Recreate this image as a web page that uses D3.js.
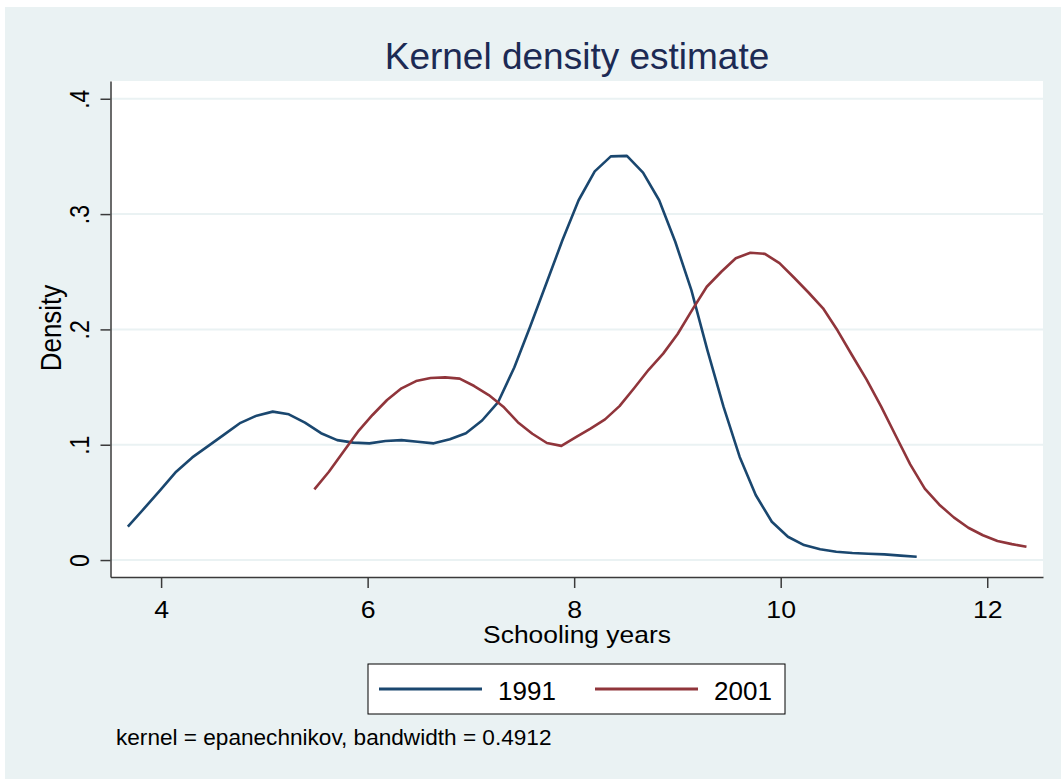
<!DOCTYPE html>
<html>
<head>
<meta charset="utf-8">
<script src="https://cdn.jsdelivr.net/npm/d3@7"></script>
<style>
body { margin: 0; background: #fff; }
svg text { font-family: "Liberation Sans", Arial, sans-serif; }
</style>
</head>
<body>
<div id="chart"></div>
<script>
// kernel density estimates, schooling years
const x1991 = [3.678, 3.834, 3.990, 4.146, 4.302, 4.458, 4.613, 4.769, 4.925, 5.081,
               5.237, 5.393, 5.549, 5.705, 5.861, 6.017, 6.172, 6.328, 6.484, 6.640,
               6.796, 6.952, 7.108, 7.264, 7.420, 7.576, 7.731, 7.887, 8.043, 8.199,
               8.355, 8.511, 8.667, 8.823, 8.979, 9.135, 9.290, 9.446, 9.602, 9.758,
               9.914, 10.070, 10.226, 10.382, 10.538, 10.694, 10.849, 11.005, 11.161, 11.317];
const y1991 = [0.029, 0.0445, 0.0605, 0.0766, 0.089, 0.099, 0.109, 0.119, 0.1252, 0.1287,
               0.1264, 0.1191, 0.110, 0.104, 0.1018, 0.1012, 0.1032, 0.104, 0.1026, 0.1012,
               0.1047, 0.110, 0.121, 0.137, 0.167, 0.203, 0.240, 0.2775, 0.312, 0.337,
               0.350, 0.3505, 0.336, 0.312, 0.276, 0.234, 0.182, 0.133, 0.0896, 0.0564,
               0.0332, 0.0202, 0.013, 0.0093, 0.0072, 0.0061, 0.0055, 0.0049, 0.0038, 0.0029];

const x2001 = [5.484, 5.625, 5.765, 5.906, 6.047, 6.188, 6.328, 6.469, 6.610, 6.751,
               6.891, 7.032, 7.173, 7.314, 7.454, 7.595, 7.736, 7.876, 8.017, 8.158,
               8.299, 8.439, 8.580, 8.721, 8.862, 9.002, 9.143, 9.284, 9.425, 9.565,
               9.706, 9.847, 9.988, 10.128, 10.269, 10.410, 10.551, 10.691, 10.832, 10.973,
               11.113, 11.254, 11.395, 11.536, 11.676, 11.817, 11.958, 12.099, 12.239, 12.380];
const y2001 = [0.0613, 0.0766, 0.0939, 0.1113, 0.1258, 0.1388, 0.1489, 0.1552, 0.1578, 0.1584,
               0.1573, 0.1509, 0.1431, 0.133, 0.1195, 0.1095, 0.1015, 0.099, 0.1065, 0.114,
               0.122, 0.1335, 0.149, 0.165, 0.179, 0.196, 0.217, 0.237, 0.250, 0.2617,
               0.2665, 0.2655, 0.2575, 0.245, 0.232, 0.2183, 0.199, 0.1776, 0.1565, 0.133,
               0.108, 0.083, 0.062, 0.048, 0.037, 0.028, 0.0215, 0.0165, 0.0138, 0.0115];

const seriesNames = ["1991", "2001"];
const seriesColors = ["#1a476f", "#90353b"];
const xTicks = [4, 6, 8, 10, 12];
const yTicks = [0, 0.1, 0.2, 0.3, 0.4];
const yTickLabels = ["0", ".1", ".2", ".3", ".4"];

const width = 1061, height = 779;
const plot = { left: 110.5, right: 1043, top: 81, bottom: 577 };
const bg = "#eaf2f3";

const svg = d3.select("#chart").append("svg")
    .attr("width", width)
    .attr("height", height);

svg.append("rect")
    .attr("x", 5).attr("y", 7)
    .attr("width", width - 5).attr("height", height - 7)
    .attr("fill", bg);

svg.append("rect")
    .attr("x", plot.left).attr("y", plot.top)
    .attr("width", plot.right - plot.left).attr("height", plot.bottom - plot.top)
    .attr("fill", "#fff");

const x = d3.scaleLinear().domain([3.51, 12.54]).range([plot.left, plot.right]);
const y = d3.scaleLinear().domain([-0.0147, 0.4154]).range([plot.bottom, plot.top]);

// gridlines
svg.append("g").selectAll("line")
    .data(yTicks)
    .join("line")
    .attr("x1", plot.left).attr("x2", plot.right)
    .attr("y1", d => y(d)).attr("y2", d => y(d))
    .attr("stroke", bg)
    .attr("stroke-width", 2);

// density curves
const line = d3.line()
    .x(d => x(d[0]))
    .y(d => y(d[1]));

const series = [d3.zip(x1991, y1991), d3.zip(x2001, y2001)];

svg.append("g").selectAll("path")
    .data(series)
    .join("path")
    .attr("d", line)
    .attr("fill", "none")
    .attr("stroke", (d, i) => seriesColors[i])
    .attr("stroke-width", 2.6)
    .attr("stroke-linejoin", "round");

// axes
const yAxis = svg.append("g")
    .attr("transform", `translate(${plot.left},0)`)
    .call(d3.axisLeft(y).tickValues(yTicks).tickSize(10).tickSizeOuter(0)
        .tickFormat((d, i) => yTickLabels[i]));

yAxis.selectAll("text")
    .attr("x", null).attr("dy", null)
    .attr("text-anchor", "middle")
    .attr("transform", "translate(-21.5,0) scale(1.17,1) rotate(-90)")
    .style("font-size", "23px")
    .attr("fill", "#000");

const xAxis = svg.append("g")
    .attr("transform", `translate(0,${plot.bottom})`)
    .call(d3.axisBottom(x).tickValues(xTicks).tickSize(11).tickSizeOuter(0));

xAxis.selectAll("text")
    .attr("y", null).attr("dy", null)
    .attr("transform", "translate(0,40.5) scale(1.16,1)")
    .style("font-size", "23px")
    .attr("fill", "#000");

svg.selectAll(".domain, .tick line")
    .attr("stroke", "#3a3a3a")
    .attr("stroke-width", 1.5);

// titles
svg.append("text")
    .attr("x", 577).attr("y", 69)
    .attr("text-anchor", "middle")
    .style("font-size", "37px")
    .attr("fill", "#1c2a54")
    .text("Kernel density estimate");

svg.append("text")
    .attr("transform", "translate(577,643) scale(1.1,1)")
    .attr("text-anchor", "middle")
    .style("font-size", "24px")
    .text("Schooling years");

svg.append("text")
    .attr("transform", "translate(61,328) scale(1.12,1) rotate(-90)")
    .attr("text-anchor", "middle")
    .style("font-size", "26px")
    .text("Density");

// legend
const legend = svg.append("g");
legend.append("rect")
    .attr("x", 368).attr("y", 664)
    .attr("width", 417).attr("height", 50)
    .attr("fill", "#fff")
    .attr("stroke", "#000")
    .attr("stroke-width", 1);

const items = legend.selectAll("g.item")
    .data(seriesNames)
    .join("g")
    .attr("class", "item")
    .attr("transform", (d, i) => `translate(${379 + i * 216},689)`);

items.append("line")
    .attr("x1", 0).attr("x2", 103)
    .attr("stroke", (d, i) => seriesColors[i])
    .attr("stroke-width", 2.8);

items.append("text")
    .attr("x", 119).attr("y", 11)
    .style("font-size", "26px")
    .text(d => d);

svg.append("text")
    .attr("x", 116).attr("y", 745)
    .style("font-size", "22.6px")
    .text("kernel = epanechnikov, bandwidth = 0.4912");
</script>
</body>
</html>
